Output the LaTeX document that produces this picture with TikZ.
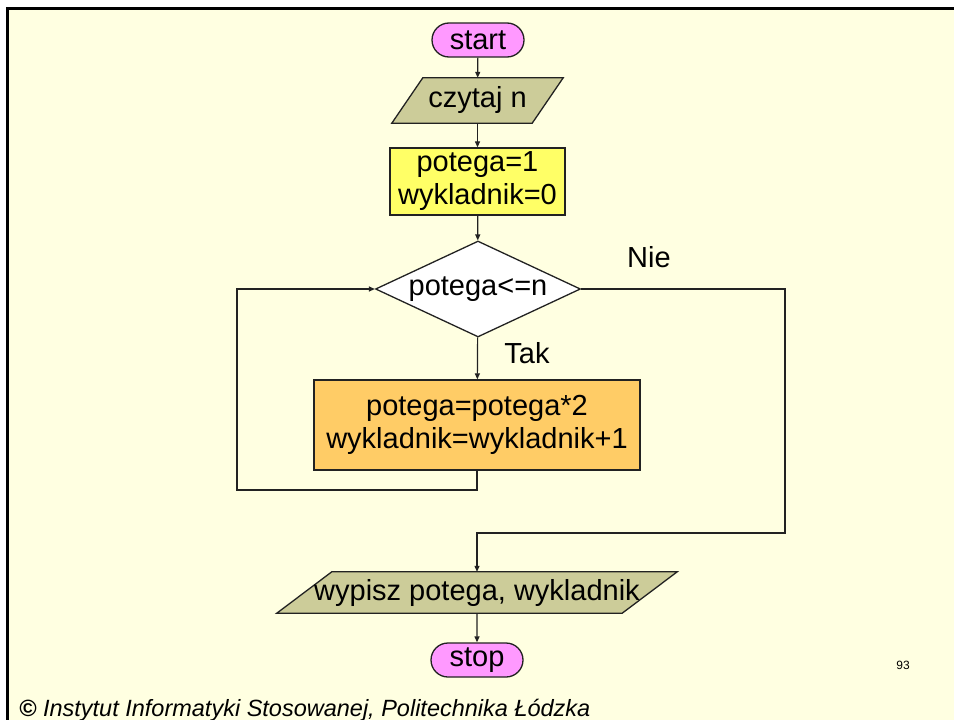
\documentclass[tikz,border=0pt]{standalone}
\usepackage{fontspec}
\setmainfont{Liberation Sans}
\usetikzlibrary{shapes.geometric,shapes.misc,arrows.meta}

\definecolor{pagebg}{HTML}{FFFFE1}
\definecolor{termfill}{HTML}{FF99FF}
\definecolor{iofill}{HTML}{CCCC99}
\definecolor{initfill}{HTML}{FFFF66}
\definecolor{loopfill}{HTML}{FFCC66}
\definecolor{edge}{HTML}{222222}

\pgfdeclarelayer{pagelayer}
\pgfdeclarelayer{shapelayer}
\pgfsetlayers{pagelayer,shapelayer,main}

\tikzset{
  txt/.style={font=\fontsize{29}{33}\selectfont, text=black},
  term/.style={txt, rounded rectangle, draw=edge, line width=1.3pt, fill=termfill,
    minimum width=92pt, minimum height=34pt, inner sep=0pt},
  procbox/.style={txt, rectangle, draw=edge, line width=1.3pt, align=center, inner sep=0pt},
  iobox/.style={txt, rectangle, draw=none, inner sep=0pt},
  iopara/.style={fill=iofill, draw=edge, line width=1.3pt, line join=miter},
  decide/.style={txt, diamond, draw=edge, line width=1.3pt, fill=white,
    shape aspect=2.135, minimum width=205pt, minimum height=96pt, inner sep=0pt},
  conn/.style={draw=edge, line width=1.2pt, -{Triangle[length=6pt,width=5pt]}},
  plain/.style={draw=edge, line width=1.2pt},
  lbl/.style={txt, inner sep=0pt}
}

% slanted input/output box drawn around a named node
\newcommand{\iosides}[2]{%
  \begin{pgfonlayer}{shapelayer}
    \path[iopara] ([xshift=#2]#1.north west) -- ([xshift=#2]#1.north east)
      -- ([xshift=-#2]#1.south east) -- ([xshift=-#2]#1.south west) -- cycle;
  \end{pgfonlayer}}

\begin{document}
\begin{tikzpicture}[x=1pt,y=-1pt]
  \useasboundingbox (0,0) rectangle (954,720);

  % slide page
  \begin{pgfonlayer}{pagelayer}
    \fill[white] (0,0) rectangle (954,720);
    \fill[pagebg] (8,9) rectangle (954,720);
    \draw[black, line width=2.6pt] (7.5,720) -- (7.5,8.5) -- (954,8.5);
  \end{pgfonlayer}

  % flowchart blocks
  \node[term] (start) at (478,40) {start};
  \node[iobox, minimum width=140pt, minimum height=45pt] (read) at (477.5,100.5) {czytaj n};
  \iosides{read}{15.5pt}
  \node[procbox, fill=initfill, minimum width=175pt, minimum height=67pt] (init) at (477.5,181.5)
    {potega=1\\wykladnik=0};
  \node[decide] (cond) at (478,289) {potega<=n};
  \node[procbox, fill=loopfill, minimum width=326pt, minimum height=90pt] (body) at (477,425)
    {potega=potega*2\\wykladnik=wykladnik+1};
  \node[iobox, minimum width=345pt, minimum height=41pt] (write) at (477,592.5)
    {wypisz potega, wykladnik};
  \iosides{write}{27.5pt}
  \node[term] (stop) at (477,660) {stop};

  % branch labels
  \node[lbl] (nie) at (649,257) {Nie};
  \node[lbl] (tak) at (527,353) {Tak};

  % routing points
  \coordinate (backleft) at (237,490);
  \coordinate (exitright) at (785,533);

  % connectors
  \draw[conn] (start) -- (read);
  \draw[conn] (read) -- (init);
  \draw[conn] (init) -- (cond);
  \draw[conn] (cond) -- (body);
  \draw[conn] (body.south) |- (backleft) |- (cond.west);
  \draw[conn] (cond.east) -| (exitright) -| (write.north);
  \draw[conn] (write) -- (stop);

  % slide number and footer
  \node[font=\fontsize{12}{14}\selectfont] (pagenum) at (903,665) {93};
  \node[anchor=base west, inner sep=0pt, font=\fontsize{23.5}{26}\selectfont\itshape]
    (footer) at (19,716) {\textbf{©} Instytut Informatyki Stosowanej, Politechnika Łódzka};
\end{tikzpicture}
\end{document}
